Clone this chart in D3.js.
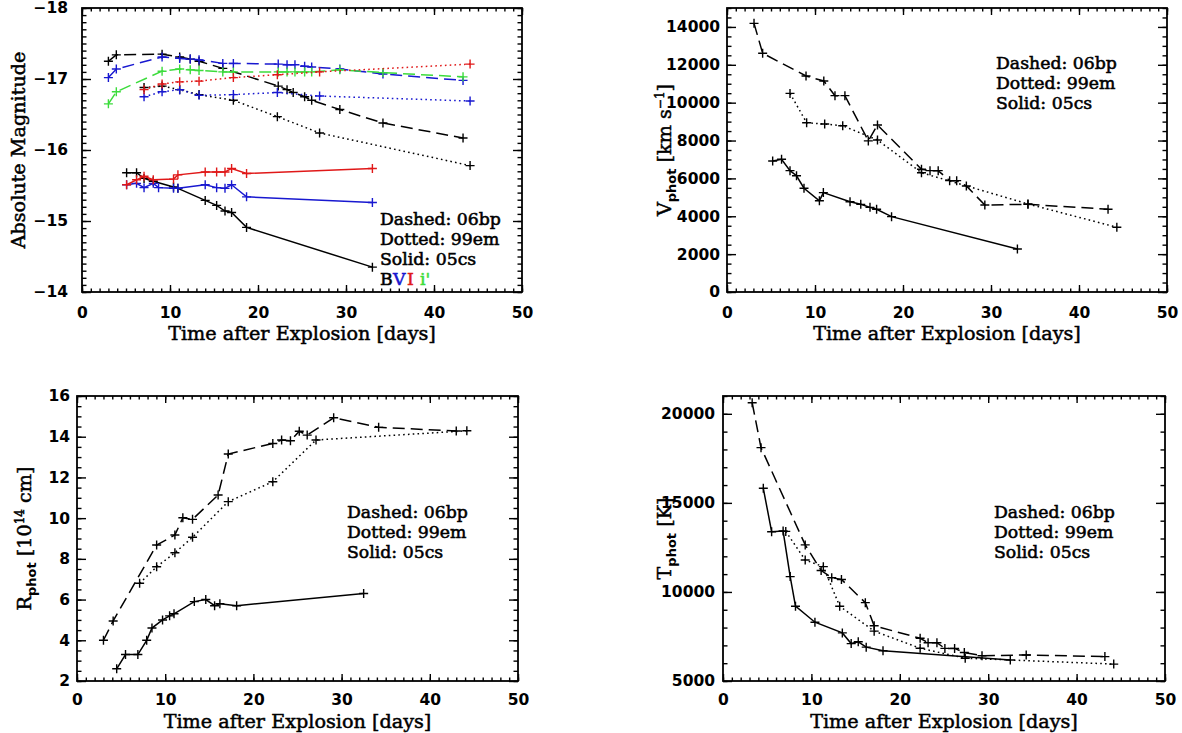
<!DOCTYPE html>
<html>
<head>
<meta charset="utf-8">
<script src="https://cdn.jsdelivr.net/npm/d3@7"></script>
<style>
  body { margin: 0; background: #fff; }
  .tick text { font-family: "DejaVu Sans", sans-serif; font-weight: bold; font-size: 15.5px; fill: #000; }
  .tick line { stroke: #000; stroke-width: 1.4; }
  .ttl { font-family: "DejaVu Serif", serif; font-size: 19.2px; fill: #000; stroke: #000; stroke-width: 0.5; }
  .key { font-family: "DejaVu Serif", serif; font-size: 17.3px; fill: #000; stroke: #000; stroke-width: 0.55; }
</style>
</head>
<body>
<svg id="fig" width="1182" height="733"></svg>
<script>
// ---------- shared x axis: time after explosion [days] ----------
const timeDomain = [0, 50];
const timeMajor = [0, 10, 20, 30, 40, 50];

// ---------- panel 1: absolute magnitudes ----------
const magTicks = [-18, -17, -16, -15, -14];
// SN 2006bp (dashed)
const bp06_B = [[3.0,-17.25],[3.9,-17.34],[9.1,-17.35],[11.1,-17.31],[12.3,-17.28],[13.3,-17.25],[16.0,-17.15],[22.3,-16.90],[23.3,-16.85],[24.0,-16.81],[25.3,-16.75],[26.1,-16.70],[29.3,-16.57],[34.2,-16.38],[43.3,-16.17]];
const bp06_V = [[3.0,-17.02],[3.9,-17.14],[9.1,-17.31],[11.1,-17.29],[12.3,-17.28],[13.3,-17.27],[16.0,-17.22],[17.2,-17.22],[22.3,-17.21],[23.3,-17.20],[24.2,-17.20],[25.3,-17.18],[26.1,-17.17],[29.3,-17.14],[34.2,-17.07],[43.3,-16.98]];
const bp06_i = [[3.0,-16.65],[3.9,-16.82],[9.1,-17.11],[11.1,-17.14],[12.3,-17.13],[13.3,-17.12],[16.0,-17.10],[17.2,-17.10],[22.3,-17.10],[23.3,-17.10],[24.2,-17.10],[25.3,-17.10],[26.1,-17.10],[29.3,-17.13],[34.2,-17.09],[43.3,-17.03]];
// SN 1999em (dotted)
const em99_B = [[7.05,-16.88],[9.1,-16.90],[11.1,-16.85],[13.3,-16.78],[17.2,-16.70],[22.2,-16.47],[27.0,-16.24],[44.1,-15.78]];
const em99_V = [[7.05,-16.75],[9.1,-16.82],[11.1,-16.85],[13.3,-16.77],[17.2,-16.78],[22.2,-16.81],[27.0,-16.76],[44.1,-16.69]];
const em99_I = [[7.05,-16.85],[9.1,-16.93],[11.1,-16.96],[13.3,-16.97],[17.2,-17.02],[22.2,-17.06],[27.0,-17.10],[44.1,-17.21]];
// SN 2005cs (solid)
const cs05_B = [[5.07,-15.68],[6.2,-15.68],[7.05,-15.60],[8.1,-15.56],[10.4,-15.48],[10.9,-15.46],[14.0,-15.29],[15.3,-15.22],[16.25,-15.14],[17.0,-15.12],[18.7,-14.91],[33.0,-14.35]];
const cs05_V = [[5.07,-15.51],[6.2,-15.53],[7.05,-15.47],[8.1,-15.53],[8.7,-15.47],[10.4,-15.46],[10.9,-15.46],[14.0,-15.51],[15.3,-15.47],[16.25,-15.46],[17.0,-15.51],[18.7,-15.34],[33.0,-15.26]];
const cs05_I = [[5.07,-15.51],[6.2,-15.58],[7.05,-15.63],[8.1,-15.58],[10.4,-15.59],[10.9,-15.65],[14.0,-15.69],[15.3,-15.69],[16.25,-15.69],[17.0,-15.74],[18.7,-15.67],[33.0,-15.74]];

// ---------- panel 2: photospheric velocity [km/s] ----------
const velTicks = [0, 2000, 4000, 6000, 8000, 10000, 12000, 14000];
const vel_06bp = [[3.07,14190],[4.05,12610],[8.98,11410],[11.0,11145],[12.27,10370],[13.4,10370],[16.06,7980],[17.1,8820],[22.1,6480],[23.07,6410],[24.0,6410],[25.3,5880],[26.1,5880],[27.2,5600],[29.3,4595],[34.2,4630],[43.3,4370]];
const vel_99em = [[7.16,10490],[9.05,8940],[11.1,8870],[13.15,8780],[17.1,8030],[22.1,6300],[34.2,4650],[44.3,3420]];
const vel_05cs = [[5.19,6920],[6.2,7010],[7.16,6410],[7.9,6140],[8.75,5480],[10.5,4820],[10.95,5250],[13.98,4770],[15.2,4630],[16.25,4470],[17.0,4370],[18.7,3980],[33.0,2270]];

// ---------- panel 3: photospheric radius [1e14 cm] ----------
const radTicks = [2, 4, 6, 8, 10, 12, 14, 16];
const rad_06bp = [[3.0,4.0],[4.1,4.95],[9.03,8.68],[11.1,9.17],[12.0,10.02],[13.1,9.94],[16.0,11.14],[17.15,13.15],[22.2,13.67],[23.2,13.84],[24.2,13.8],[25.2,14.27],[26.1,14.08],[29.1,14.93],[34.2,14.46],[43.0,14.28]];
const rad_99em = [[7.1,6.8],[9.03,7.61],[11.1,8.3],[13.1,9.06],[17.15,10.81],[22.2,11.79],[27.1,13.84],[44.2,14.29]];
const rad_05cs = [[4.5,2.6],[5.5,3.3],[6.9,3.3],[7.9,4.0],[8.5,4.6],[9.7,5.0],[10.5,5.2],[11.0,5.3],[13.3,5.9],[14.6,6.0],[15.6,5.7],[16.2,5.8],[18.1,5.7],[32.5,6.3]];

// ---------- panel 4: photospheric temperature [K] ----------
const tempTicks = [5000, 10000, 15000, 20000];
const temp_06bp = [[3.3,20620],[4.3,18100],[9.3,12640],[11.1,11200],[12.3,10800],[13.4,10700],[16.1,9400],[17.1,8100],[22.3,7400],[23.2,7150],[24.2,7150],[25.1,6830],[26.2,6830],[27.3,6600],[29.3,6420],[34.3,6460],[43.2,6370]];
const temp_99em = [[7.1,13400],[9.3,11790],[11.35,11420],[13.2,9200],[17.1,7800],[22.3,6840],[27.4,6280],[44.2,5950]];
const temp_05cs = [[4.56,15820],[5.5,13380],[6.8,13420],[7.6,10860],[8.2,9200],[10.4,8300],[13.5,7700],[14.5,7100],[15.3,7200],[16.2,6900],[18.1,6700],[32.5,6180]];

// ---------- keys ----------
const styleKey = ["Dashed: 06bp", "Dotted: 99em", "Solid: 05cs"];
const bandNames = ["B", "V", "I", "i'"];

// ---------- drawing ----------
const svg = d3.select("#fig");
const COL = { k: "#000000", b: "#1818d0", r: "#e01818", g: "#3cdc3c" };
const DASH = { solid: null, dashed: "12,6", dotted: "1.6,3.2" };
const LINE_GAP = 20.2;

function range(a, b, s) { return d3.range(a, b + s / 2, s); }

function drawPanel(p) {
  const x = d3.scaleLinear().domain(timeDomain).range([p.l, p.r]);
  const y = d3.scaleLinear().domain(p.yDomain).range([p.b, p.t]);
  const g = svg.append("g");

  const addAxis = (gen, tr, vals, len, fmt, pad) => {
    const a = g.append("g").attr("transform", tr)
      .call(gen.tickValues(vals).tickSize(-len).tickSizeOuter(0).tickPadding(pad || 3).tickFormat(fmt));
    a.select(".domain").remove();
    return a;
  };
  const none = () => "";
  const xMinor = range(timeDomain[0], timeDomain[1], 1);
  const yMinor = range(p.yMinorFrom, p.yMinorTo, p.yMinorStep);

  // x axes (bottom with labels, top mirrored)
  addAxis(d3.axisBottom(x), `translate(0,${p.b})`, xMinor, 3.5, none);
  addAxis(d3.axisBottom(x), `translate(0,${p.b})`, timeMajor, 7, d3.format("d"), p.xPad);
  addAxis(d3.axisTop(x), `translate(0,${p.t})`, xMinor, 3.5, none);
  addAxis(d3.axisTop(x), `translate(0,${p.t})`, timeMajor, 7, none);
  // y axes (left with labels, right mirrored)
  addAxis(d3.axisLeft(y), `translate(${p.l},0)`, yMinor, 4.5, none);
  addAxis(d3.axisLeft(y), `translate(${p.l},0)`, p.yTicks, 9, d3.format("d"), p.yPad);
  addAxis(d3.axisRight(y), `translate(${p.r},0)`, yMinor, 4.5, none);
  addAxis(d3.axisRight(y), `translate(${p.r},0)`, p.yTicks, 9, none);

  g.append("rect").attr("x", p.l).attr("y", p.t)
    .attr("width", p.r - p.l).attr("height", p.b - p.t)
    .attr("fill", "none").attr("stroke", "#000").attr("stroke-width", 1.8);

  const line = d3.line().x(d => x(d[0])).y(d => y(d[1]));
  p.series.forEach(s => {
    g.append("path").datum(s.data).attr("d", line)
      .attr("fill", "none").attr("stroke", COL[s.c]).attr("stroke-width", 1.5)
      .attr("stroke-dasharray", DASH[s.ls]);
    const m = 4.5;
    g.append("g").selectAll("path").data(s.data).join("path")
      .attr("d", d => {
        const cx = x(d[0]), cy = y(d[1]);
        return `M${cx - m},${cy}H${cx + m}M${cx},${cy - m}V${cy + m}`;
      })
      .attr("stroke", COL[s.c]).attr("stroke-width", 1.4).attr("fill", "none");
  });

  // x title
  g.append("text").attr("class", "ttl").attr("x", (p.l + p.r) / 2).attr("y", p.xTitleY)
    .attr("text-anchor", "middle").text("Time after Explosion [days]");

  // y title
  const yt = g.append("text").attr("class", "ttl")
    .attr("transform", `translate(${p.yTitleX},${(p.t + p.b) / 2}) rotate(-90)`)
    .attr("text-anchor", "middle");
  p.yTitle(yt);

  // line-style key: one multi-line text block
  const key = g.append("text").attr("class", "key").attr("x", p.keyX).attr("y", p.keyY);
  styleKey.forEach((t, i) => {
    key.append("tspan").attr("x", p.keyX).attr("dy", i === 0 ? 0 : LINE_GAP).text(t);
  });
  if (p.bands) {
    // coloured filter names on the following line
    p.bands.forEach((b, i) => {
      key.append("tspan").attr("x", p.keyX + b.dx).attr("dy", i === 0 ? LINE_GAP : 0)
        .style("fill", COL[b.c]).style("stroke", COL[b.c]).text(b.name);
    });
  }
  return { g, x, y };
}

function subTitle(main, sub, rest, sup, tail) {
  return t => {
    t.append("tspan").text(main);
    t.append("tspan").attr("dy", 5).style("font-size", "13px").style("font-family", "DejaVu Sans").style("font-weight", "bold").style("stroke-width", 0).text(sub);
    t.append("tspan").attr("dy", -5).text(rest);
    if (sup) {
      t.append("tspan").attr("dy", -7).style("font-size", "12px").text(sup);
      t.append("tspan").attr("dy", 7).text(tail);
    }
  };
}

const bandOffsets = [0, 13, 27, 40];
const bandColours = ["k", "b", "r", "g"];

drawPanel({
  l: 82, r: 522, t: 8, b: 292, yDomain: [-14, -18], yTicks: magTicks,
  yMinorFrom: -18, yMinorTo: -14, yMinorStep: 0.1, xPad: 15, yPad: 14,
  xTitleY: 340, yTitleX: 25, keyX: 380, keyY: 224.7,
  yTitle: t => t.text("Absolute Magnitude"),
  bands: bandNames.map((name, i) => ({ name, dx: bandOffsets[i], c: bandColours[i] })),
  series: [
    { data: bp06_B, c: "k", ls: "dashed" }, { data: bp06_V, c: "b", ls: "dashed" }, { data: bp06_i, c: "g", ls: "dashed" },
    { data: em99_B, c: "k", ls: "dotted" }, { data: em99_V, c: "b", ls: "dotted" }, { data: em99_I, c: "r", ls: "dotted" },
    { data: cs05_B, c: "k", ls: "solid" }, { data: cs05_V, c: "b", ls: "solid" }, { data: cs05_I, c: "r", ls: "solid" }
  ]
});

drawPanel({
  l: 727, r: 1167, t: 8, b: 292, yDomain: [0, 15000], yTicks: velTicks,
  yMinorFrom: 0, yMinorTo: 15000, yMinorStep: 500, xPad: 15, yPad: 7,
  xTitleY: 340, yTitleX: 671, keyX: 996, keyY: 68.8,
  yTitle: subTitle("V", "phot", " [km s", "\u22121", "]"),
  series: [
    { data: vel_06bp, c: "k", ls: "dashed" }, { data: vel_99em, c: "k", ls: "dotted" }, { data: vel_05cs, c: "k", ls: "solid" }
  ]
});

drawPanel({
  l: 77, r: 518, t: 396, b: 681, yDomain: [2, 16], yTicks: radTicks,
  yMinorFrom: 2, yMinorTo: 16, yMinorStep: 0.5, xPad: 13, yPad: 7,
  xTitleY: 728, yTitleX: 31, keyX: 347, keyY: 518,
  yTitle: subTitle("R", "phot", " [10", "14", " cm]"),
  series: [
    { data: rad_06bp, c: "k", ls: "dashed" }, { data: rad_99em, c: "k", ls: "dotted" }, { data: rad_05cs, c: "k", ls: "solid" }
  ]
});

drawPanel({
  l: 723, r: 1165, t: 396, b: 681, yDomain: [5000, 21000], yTicks: tempTicks,
  yMinorFrom: 5000, yMinorTo: 21000, yMinorStep: 1000, xPad: 13, yPad: 8,
  xTitleY: 728, yTitleX: 671, keyX: 994, keyY: 518,
  yTitle: subTitle("T", "phot", " [K]"),
  series: [
    { data: temp_06bp, c: "k", ls: "dashed" }, { data: temp_99em, c: "k", ls: "dotted" }, { data: temp_05cs, c: "k", ls: "solid" }
  ]
});
</script>
</body>
</html>
